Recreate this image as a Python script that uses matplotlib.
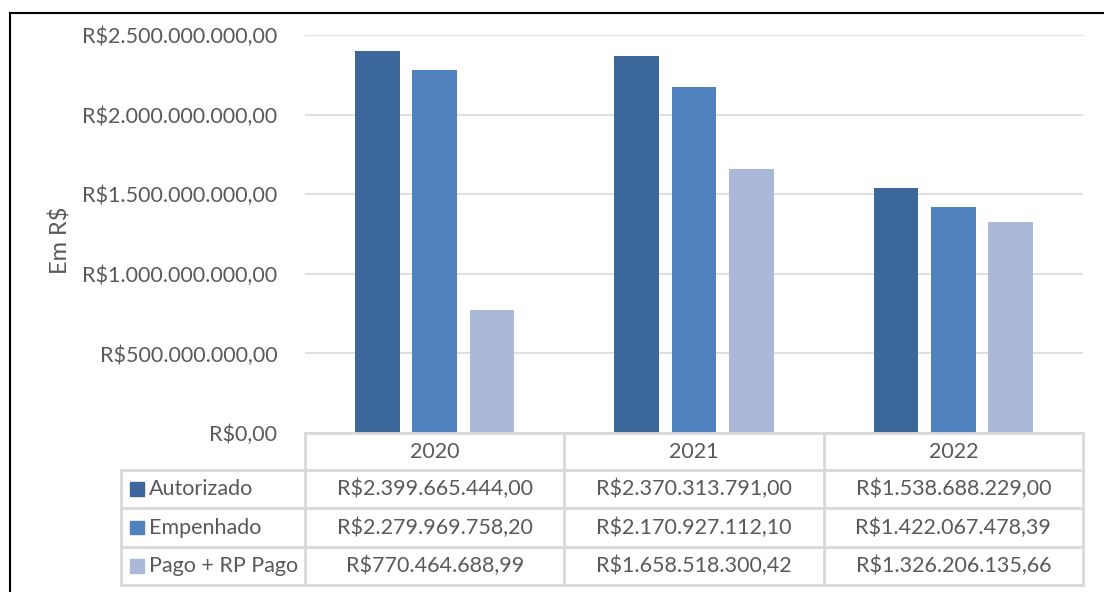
import matplotlib
matplotlib.use("Agg")
import matplotlib.pyplot as plt
from matplotlib.lines import Line2D
from matplotlib.patches import Rectangle

years = ["2020", "2021", "2022"]
series = ["Autorizado", "Empenhado", "Pago + RP Pago"]
autorizado = [2399665444.00, 2370313791.00, 1538688229.00]
empenhado = [2279969758.20, 2170927112.10, 1422067478.39]
pago = [770464688.99, 1658518300.42, 1326206135.66]
yticks = [0, 500e6, 1000e6, 1500e6, 2000e6, 2500e6]
ylabel = "Em R$"

colors = ["#3C679A", "#4E81BE", "#AAB9D8"]
values = [autorizado, empenhado, pago]
TXT = "#595959"
GRID = "#D9D9D9"
FONT = "Lato"
FS = 15.5


def brl(v):
    s = f"{v:,.2f}"
    s = s.replace(",", "X").replace(".", ",").replace("X", ".")
    return "R$" + s


W, H = 1104, 592
fig = plt.figure(figsize=(W / 100, H / 100), dpi=100)


def fx(px):
    return px / W


def fy(py):
    return 1 - py / H


# plot area
left, right, top, bottom = 305, 1083, 35, 433
ax = fig.add_axes([fx(left), fy(bottom), fx(right - left), fy(top) - fy(bottom)])
n = len(years)
ax.set_xlim(0, n)
ax.set_ylim(0, 2.5e9)
offs = [-0.221, 0.0, 0.221]
bw = 0.173
for si, vals in enumerate(values):
    xs = [i + 0.5 + offs[si] for i in range(n)]
    ax.bar(xs, vals, width=bw, color=colors[si], zorder=3)
ax.set_yticks(yticks)
ax.set_yticklabels([brl(t) for t in yticks], fontsize=FS, color=TXT, family=FONT)
ax.yaxis.grid(True, color=GRID, linewidth=1.2, zorder=0)
ax.tick_params(axis="y", length=0, pad=20)
ax.set_xticks([])
for sp in ax.spines.values():
    sp.set_visible(False)
fig.text(fx(60), fy(240), ylabel, rotation=90, ha="center", va="center",
         fontsize=17, color=TXT, family=FONT)

# data table
tleft, tbot = 121, 585
rows_y = [433, 470, 508, 547, 585]
tab = fig.add_axes([fx(tleft), fy(tbot), fx(right - tleft), fy(rows_y[0]) - fy(tbot)])
catw = (right - left) / n
legw = (left - tleft) / catw
tab.set_xlim(-legw, n)
tab.set_ylim(4, 0)
tab.axis("off")
ry = [(y - rows_y[0]) / (rows_y[-1] - rows_y[0]) * 4 for y in rows_y]
lc = "#D9D9D9"
lw = 2.0
tab.plot([0, n], [ry[0], ry[0]], color=lc, lw=lw, clip_on=False)
for r in ry[1:]:
    tab.plot([-legw, n], [r, r], color=lc, lw=lw, clip_on=False)
for c in range(n + 1):
    tab.plot([c, c], [ry[0], ry[-1]], color=lc, lw=lw, clip_on=False)
tab.plot([-legw, -legw], [ry[1], ry[-1]], color=lc, lw=lw, clip_on=False)

for i, yr in enumerate(years):
    tab.text(i + 0.5, (ry[0] + ry[1]) / 2, yr, ha="center", va="center",
             fontsize=FS, color=TXT, family=FONT)
for si, name in enumerate(series):
    yc = (ry[si + 1] + ry[si + 2]) / 2
    sq = 14 / catw
    tab.add_patch(Rectangle((-legw + 9 / catw, yc - 0.18), sq, 0.36,
                            color=colors[si], clip_on=False))
    tab.text(-legw + 28 / catw, yc, name, ha="left", va="center",
             fontsize=FS, color=TXT, family=FONT)
    for i in range(n):
        tab.text(i + 0.5, yc, brl(values[si][i]), ha="center", va="center",
                 fontsize=FS, color=TXT, family=FONT)

# outer frame (page border)
fig.add_artist(Line2D([fx(10), fx(10)], [fy(13), 0], color="black", lw=1.5))
fig.add_artist(Line2D([fx(10), 1], [fy(13), fy(13)], color="black", lw=1.5))

fig.savefig("out.png", dpi=100)
